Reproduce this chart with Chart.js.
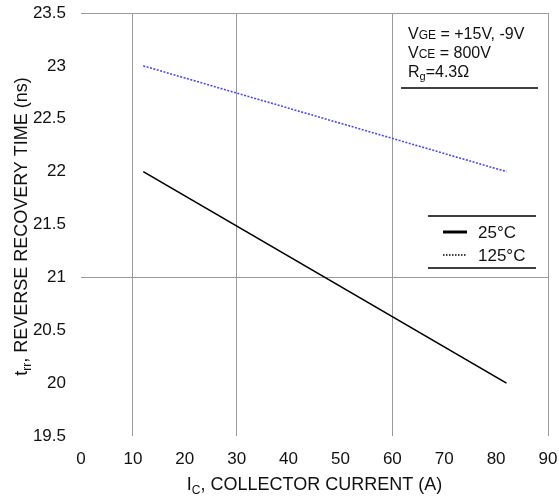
<!DOCTYPE html>
<html>
<head>
<meta charset="utf-8">
<script src="https://cdn.jsdelivr.net/npm/chart.js@4/dist/chart.umd.min.js"></script>
<style>
  body { margin: 0; background: #fff; }
  canvas { display: block; }
</style>
</head>
<body>
<canvas id="trrChart" width="559" height="497"></canvas>
<script>
// Collector current (A) and reverse recovery time (ns)
const collectorCurrent = [12, 82];
const trr25C = [22, 20];
const trr125C = [23, 22];
const seriesLabels = ['25°C', '125°C'];

// Only a few grid lines are drawn in the original
const xGridValues = [10, 30, 60, 90];
const yGridValues = [21, 23.5];

const FONT = "'Liberation Sans', Arial, sans-serif";

// Draw text made of pieces with different sizes / offsets (for subscripts)
function drawRichText(ctx, parts, x, y, align) {
    let total = 0;
    parts.forEach(p => {
        ctx.font = p.size + 'px ' + FONT;
        p.w = ctx.measureText(p.text).width;
        total += p.w;
    });
    let cx = align === 'center' ? x - total / 2 : x;
    parts.forEach(p => {
        ctx.font = p.size + 'px ' + FONT;
        ctx.fillText(p.text, cx, y + (p.dy || 0));
        cx += p.w;
    });
}

const decorations = {
    id: 'decorations',
    afterDraw(chart) {
        const ctx = chart.ctx;
        const area = chart.chartArea;
        ctx.save();
        ctx.fillStyle = '#111';
        ctx.textBaseline = 'alphabetic';
        ctx.textAlign = 'left';

        // x axis title
        drawRichText(ctx, [
            { text: 'I', size: 18 },
            { text: 'C', size: 12, dy: 4 },
            { text: ', COLLECTOR CURRENT (A)', size: 18 }
        ], (area.left + area.right) / 2, 490, 'center');

        // y axis title
        ctx.save();
        ctx.translate(27, (area.top + area.bottom) / 2 + 2);
        ctx.rotate(-Math.PI / 2);
        drawRichText(ctx, [
            { text: 't', size: 18 },
            { text: 'rr', size: 12, dy: 4 },
            { text: ', REVERSE RECOVERY TIME (ns)', size: 18 }
        ], 0, 0, 'center');
        ctx.restore();

        // test conditions
        const tx = area.right - 140;
        drawRichText(ctx, [
            { text: 'V', size: 16 },
            { text: 'GE', size: 12 },
            { text: ' = +15V, -9V', size: 16 }
        ], tx, area.top + 26, 'left');
        drawRichText(ctx, [
            { text: 'V', size: 16 },
            { text: 'CE', size: 12 },
            { text: ' = 800V', size: 16 }
        ], tx, area.top + 45, 'left');
        drawRichText(ctx, [
            { text: 'R', size: 16 },
            { text: 'g', size: 11, dy: 3 },
            { text: '=4.3Ω', size: 16 }
        ], tx, area.top + 64, 'left');

        ctx.strokeStyle = '#000';
        ctx.lineWidth = 1.5;
        ctx.beginPath();
        ctx.moveTo(area.right - 147, area.top + 75);
        ctx.lineTo(area.right - 10, area.top + 75);
        ctx.stroke();

        // legend
        const lx0 = area.right - 120, lx1 = area.right - 12;
        ctx.beginPath();
        ctx.moveTo(lx0, area.top + 203);
        ctx.lineTo(lx1, area.top + 203);
        ctx.moveTo(lx0, area.top + 255);
        ctx.lineTo(lx1, area.top + 255);
        ctx.stroke();

        const rows = [
            { y: area.top + 219, width: 3, dash: [] },
            { y: area.top + 242, width: 1.5, dash: [1.5, 1.5] }
        ];
        rows.forEach((r, i) => {
            ctx.lineWidth = r.width;
            ctx.setLineDash(r.dash);
            ctx.beginPath();
            ctx.moveTo(area.right - 105, r.y);
            ctx.lineTo(area.right - 81, r.y);
            ctx.stroke();
            ctx.setLineDash([]);
            ctx.font = '17px ' + FONT;
            ctx.fillText(chart.data.datasets[i].label, area.right - 70, r.y + 6);
        });
        ctx.restore();
    }
};

new Chart(document.getElementById('trrChart'), {
    type: 'line',
    data: {
        datasets: [
            {
                label: seriesLabels[0],
                data: collectorCurrent.map((x, i) => ({ x: x, y: trr25C[i] })),
                borderColor: '#000',
                borderWidth: 1.7,
                pointRadius: 0
            },
            {
                label: seriesLabels[1],
                data: collectorCurrent.map((x, i) => ({ x: x, y: trr125C[i] })),
                borderColor: '#4a4af5',
                borderWidth: 1.6,
                borderDash: [2, 1.5],
                pointRadius: 0
            }
        ]
    },
    options: {
        responsive: false,
        animation: false,
        layout: { padding: { top: 13, right: 11, left: 0, bottom: 0 } },
        plugins: {
            legend: { display: false },
            tooltip: { enabled: false }
        },
        scales: {
            x: {
                type: 'linear',
                min: 0,
                max: 90,
                afterFit(scale) {
                    scale.height = 61;
                    scale.paddingLeft = 0;
                    scale.paddingRight = 0;
                },
                ticks: {
                    stepSize: 10,
                    color: '#111',
                    padding: 13,
                    font: { family: FONT, size: 17 }
                },
                grid: {
                    drawTicks: false,
                    lineWidth: 1,
                    color: c => xGridValues.includes(c.tick.value) ? '#9a9a9a' : 'rgba(0,0,0,0)'
                },
                border: { display: false }
            },
            y: {
                min: 19.5,
                max: 23.5,
                afterFit(scale) {
                    scale.width = 81;
                    scale.paddingTop = 0;
                    scale.paddingBottom = 0;
                },
                ticks: {
                    stepSize: 0.5,
                    color: '#111',
                    padding: 15,
                    font: { family: FONT, size: 17 },
                    callback: v => String(v)
                },
                grid: {
                    drawTicks: false,
                    lineWidth: 1,
                    color: c => yGridValues.includes(c.tick.value) ? '#9a9a9a' : 'rgba(0,0,0,0)'
                },
                border: { display: false }
            }
        }
    },
    plugins: [decorations]
});
</script>
</body>
</html>
